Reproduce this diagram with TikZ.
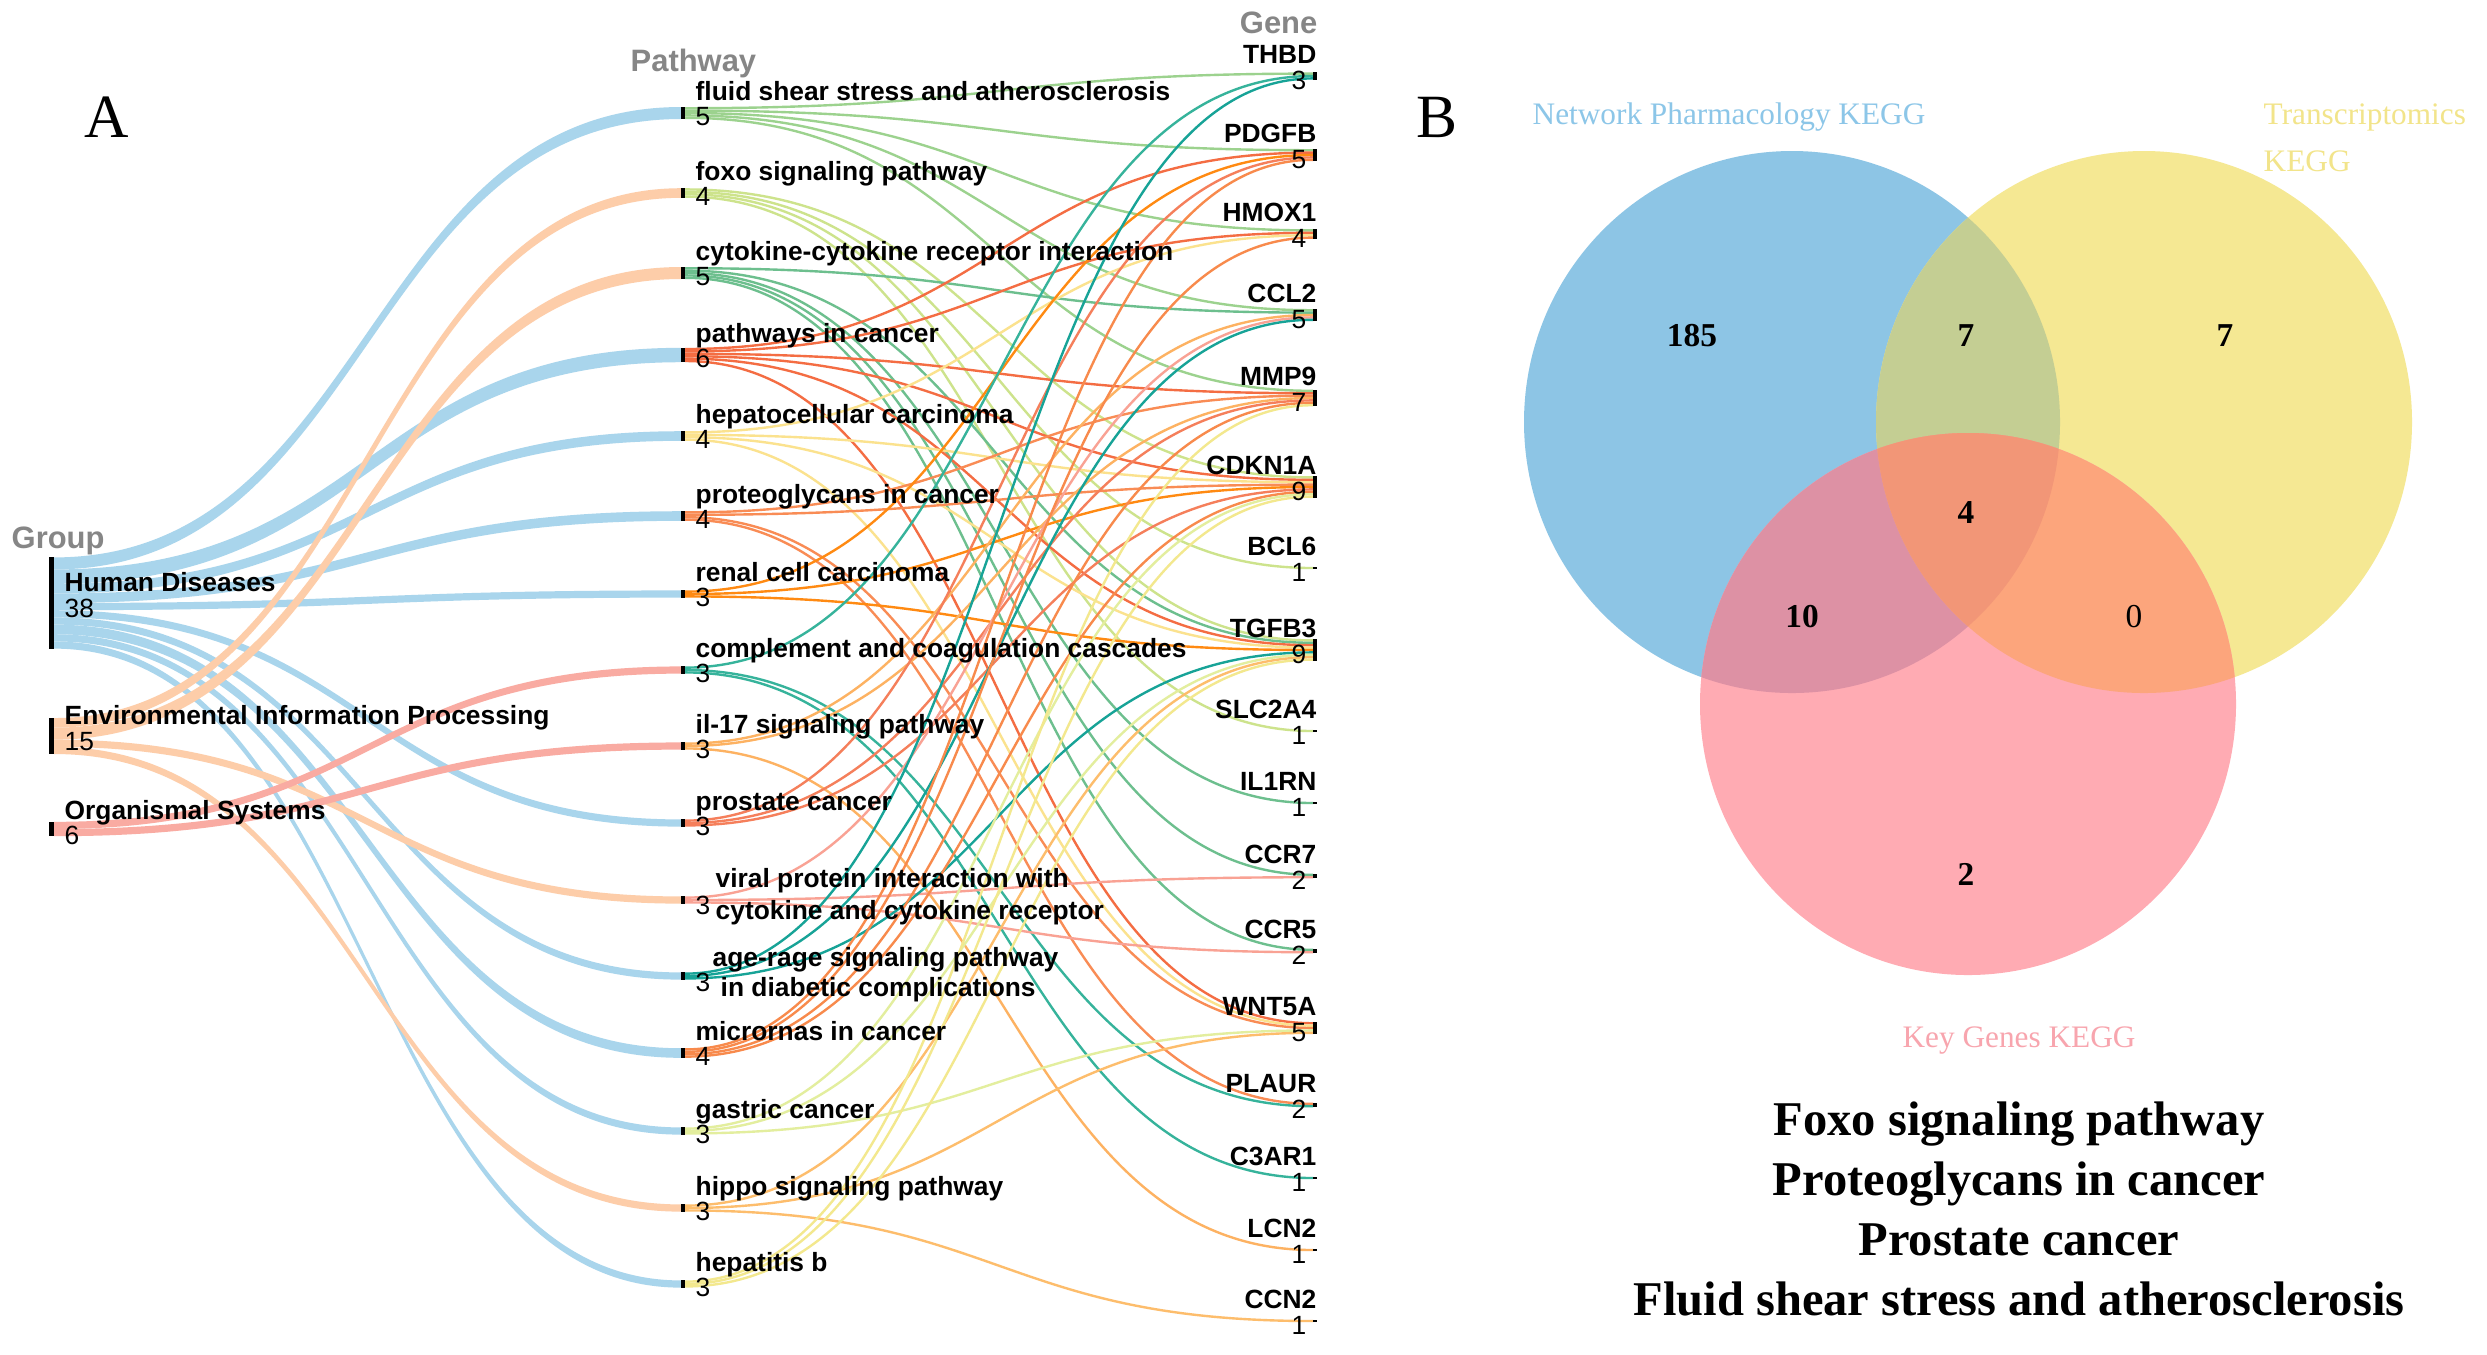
\documentclass[tikz,border=0pt]{standalone}
\usepackage{fontspec}
\setmainfont{Liberation Serif}
\newfontfamily\arialf{Liberation Sans}
\usetikzlibrary{calc}
\definecolor{cHD}{HTML}{A9D5EC}
\definecolor{cEIP}{HTML}{FDCDA9}
\definecolor{cOS}{HTML}{F9ABA2}
\definecolor{cFluid}{HTML}{9CD28E}
\definecolor{cFoxo}{HTML}{CDE38C}
\definecolor{cCyto}{HTML}{6DBF8E}
\definecolor{cCancer}{HTML}{F46D43}
\definecolor{cHepato}{HTML}{FBE28E}
\definecolor{cProteo}{HTML}{F98C55}
\definecolor{cRenal}{HTML}{FF8A12}
\definecolor{cComp}{HTML}{36B39B}
\definecolor{cIL}{HTML}{FDB262}
\definecolor{cPros}{HTML}{F57F5B}
\definecolor{cViral}{HTML}{F9A294}
\definecolor{cAge}{HTML}{17A397}
\definecolor{cMicro}{HTML}{F88A4C}
\definecolor{cGastric}{HTML}{E3EE9E}
\definecolor{cHippo}{HTML}{FDBD6C}
\definecolor{cHepB}{HTML}{F3E88E}
\definecolor{vBlue}{HTML}{8DC5E5}
\definecolor{vYel}{HTML}{F5E893}
\definecolor{vPink}{HTML}{FFABB3}
\definecolor{vBY}{HTML}{C4CE93}
\definecolor{vBP}{HTML}{DD91A4}
\definecolor{vYP}{HTML}{FCA57C}
\definecolor{vAll}{HTML}{F29677}
\definecolor{lBlue}{HTML}{8CC6E8}
\definecolor{lYel}{HTML}{F2E48A}
\definecolor{lPink}{HTML}{F8A5AE}
\newcommand\mkrib[5]{%
\pgfmathsetmacro\ribh{#5*2.4}%
\pgfmathsetmacro\ribb{#3+#5*2.4}%
\fill[#1] ($(#2.east)+(0,#3)$) .. controls ($(#2.east)+(314,#3)$) and ($(#4.west)+(-314,-\ribh/2)$) .. ($(#4.west)+(0,-\ribh/2)$) -- ($(#4.west)+(0,\ribh/2)$) .. controls ($(#4.west)+(-314,\ribh/2)$) and ($(#2.east)+(314,\ribb)$) .. ($(#2.east)+(0,\ribb)$) -- cycle;}
\newcommand\mklnk[5]{\draw[lk,#1] ($(#2.east)+(0,#3)$) .. controls ($(#2.east)+(314,#3)$) and ($(#4.west)+(-314,#5)$) .. ($(#4.west)+(0,#5)$);}
\begin{document}
\begin{tikzpicture}[x=0.1mm,y=-0.1mm,
  lk/.style={line width=0.68pt},
  bar/.style={fill=black,inner sep=0pt,outer sep=0pt,draw=none,minimum width=0.4mm},
  gbar/.style={fill=black,inner sep=0pt,outer sep=0pt,draw=none,minimum width=0.5mm},
  sk/.style={font=\arialf\bfseries\fontsize{7.5}{9}\selectfont,inner sep=0pt},
  num/.style={font=\arialf\fontsize{7.5}{9}\selectfont,inner sep=0pt},
  hdr/.style={font=\arialf\bfseries\fontsize{8.8}{10}\selectfont,text=gray!95,inner sep=0pt},
  vnum/.style={font=\bfseries\fontsize{9.5}{11}\selectfont,inner sep=0pt},
  vlab/.style={font=\fontsize{8.9}{10}\selectfont,inner sep=0pt},
  btxt/.style={font=\bfseries\fontsize{13.8}{16}\selectfont,inner sep=0pt},
  panel/.style={font=\fontsize{17.5}{20}\selectfont,inner sep=0pt},
  vb/.style={x radius=268, y radius=271}]
\useasboundingbox (0,0) rectangle (2487,1354);
\fill[white] (0,0) rectangle (2487,1354);
% ---------- nodes (bars)
\node[gbar,minimum height=9.12mm] (GR1) at (51.5,603) {};
\node[gbar,minimum height=3.6mm] (GR2) at (51.5,736) {};
\node[gbar,minimum height=1.44mm] (GR3) at (51.5,829) {};
\foreach \i/\y/\h in {1/113/1.2,2/193/0.96,3/273/1.2,4/355/1.44,5/436/0.96,6/516/0.96,7/594/0.72,8/670/0.72,9/746/0.72,10/823/0.72,11/900/0.72,12/976/0.72,13/1053/0.96,14/1131/0.72,15/1208/0.72,16/1284/0.72}
  \node[bar,minimum height=\h mm] (P\i) at (683,\y) {};
\foreach \i/\y/\h in {1/76/0.72,2/155/1.2,3/234/0.96,4/315/1.2,5/398/1.68,6/487/2.16,7/568/0.24,8/650/2.16,9/731/0.24,10/803/0.24,11/876/0.48,12/951/0.48,13/1028/1.2,14/1105/0.48,15/1178/0.24,16/1250/0.24,17/1321/0.24}
  \node[bar,minimum height=\h mm] (G\i) at (1315,\y) {};
% ---------- ribbons group -> pathway
\mkrib{cHD}{GR1}{-45.6}{P1}{5}
\mkrib{cHD}{GR1}{-33.6}{P4}{6}
\mkrib{cHD}{GR1}{-19.2}{P5}{4}
\mkrib{cHD}{GR1}{-9.6}{P6}{4}
\mkrib{cHD}{GR1}{0}{P7}{3}
\mkrib{cHD}{GR1}{7.2}{P10}{3}
\mkrib{cHD}{GR1}{14.4}{P12}{3}
\mkrib{cHD}{GR1}{21.6}{P13}{4}
\mkrib{cHD}{GR1}{31.2}{P14}{3}
\mkrib{cHD}{GR1}{38.4}{P16}{3}
\mkrib{cEIP}{GR2}{-18}{P2}{4}
\mkrib{cEIP}{GR2}{-8.4}{P3}{5}
\mkrib{cEIP}{GR2}{3.6}{P11}{3}
\mkrib{cEIP}{GR2}{10.8}{P15}{3}
\mkrib{cOS}{GR3}{-7.2}{P8}{3}
\mkrib{cOS}{GR3}{0}{P9}{3}
% ---------- links pathway -> gene
\mklnk{cFluid}{P1}{-4.8}{G1}{-2.4}
\mklnk{cFluid}{P1}{-2.4}{G2}{-4.8}
\mklnk{cFluid}{P1}{0}{G3}{-3.6}
\mklnk{cFluid}{P1}{2.4}{G4}{-4.8}
\mklnk{cFluid}{P1}{4.8}{G5}{-7.2}
\mklnk{cFoxo}{P2}{-3.6}{G6}{-9.6}
\mklnk{cFoxo}{P2}{-1.2}{G7}{0}
\mklnk{cFoxo}{P2}{1.2}{G8}{-9.6}
\mklnk{cFoxo}{P2}{3.6}{G9}{0}
\mklnk{cCyto}{P3}{-4.8}{G4}{-2.4}
\mklnk{cCyto}{P3}{-2.4}{G8}{-7.2}
\mklnk{cCyto}{P3}{0}{G10}{0}
\mklnk{cCyto}{P3}{2.4}{G11}{-1.2}
\mklnk{cCyto}{P3}{4.8}{G12}{-1.2}
\mklnk{cCancer}{P4}{-6}{G2}{-2.4}
\mklnk{cCancer}{P4}{-3.6}{G3}{-1.2}
\mklnk{cCancer}{P4}{-1.2}{G5}{-4.8}
\mklnk{cCancer}{P4}{1.2}{G6}{-7.2}
\mklnk{cCancer}{P4}{3.6}{G8}{-4.8}
\mklnk{cCancer}{P4}{6}{G13}{-4.8}
\mklnk{cHepato}{P5}{-3.6}{G3}{1.2}
\mklnk{cHepato}{P5}{-1.2}{G6}{-4.8}
\mklnk{cHepato}{P5}{1.2}{G8}{-2.4}
\mklnk{cHepato}{P5}{3.6}{G13}{-2.4}
\mklnk{cProteo}{P6}{-3.6}{G5}{-2.4}
\mklnk{cProteo}{P6}{-1.2}{G6}{-2.4}
\mklnk{cProteo}{P6}{1.2}{G13}{0}
\mklnk{cProteo}{P6}{3.6}{G14}{-1.2}
\mklnk{cRenal}{P7}{-2.4}{G2}{0}
\mklnk{cRenal}{P7}{0}{G6}{0}
\mklnk{cRenal}{P7}{2.4}{G8}{0}
\mklnk{cComp}{P8}{-2.4}{G1}{0}
\mklnk{cComp}{P8}{0}{G14}{1.2}
\mklnk{cComp}{P8}{2.4}{G15}{0}
\mklnk{cIL}{P9}{-2.4}{G4}{0}
\mklnk{cIL}{P9}{0}{G5}{0}
\mklnk{cIL}{P9}{2.4}{G16}{0}
\mklnk{cPros}{P10}{-2.4}{G2}{2.4}
\mklnk{cPros}{P10}{0}{G5}{2.4}
\mklnk{cPros}{P10}{2.4}{G6}{2.4}
\mklnk{cViral}{P11}{-2.4}{G4}{2.4}
\mklnk{cViral}{P11}{0}{G11}{1.2}
\mklnk{cViral}{P11}{2.4}{G12}{1.2}
\mklnk{cAge}{P12}{-2.4}{G1}{2.4}
\mklnk{cAge}{P12}{0}{G4}{4.8}
\mklnk{cAge}{P12}{2.4}{G8}{2.4}
\mklnk{cMicro}{P13}{-3.6}{G2}{4.8}
\mklnk{cMicro}{P13}{-1.2}{G3}{3.6}
\mklnk{cMicro}{P13}{1.2}{G5}{4.8}
\mklnk{cMicro}{P13}{3.6}{G6}{4.8}
\mklnk{cGastric}{P14}{-2.4}{G6}{7.2}
\mklnk{cGastric}{P14}{0}{G8}{4.8}
\mklnk{cGastric}{P14}{2.4}{G13}{2.4}
\mklnk{cHippo}{P15}{-2.4}{G8}{7.2}
\mklnk{cHippo}{P15}{0}{G13}{4.8}
\mklnk{cHippo}{P15}{2.4}{G17}{0}
\mklnk{cHepB}{P16}{-2.4}{G5}{7.2}
\mklnk{cHepB}{P16}{0}{G6}{9.6}
\mklnk{cHepB}{P16}{2.4}{G8}{9.6}
% redraw bars on top
\foreach \n in {GR1,GR2,GR3} \fill[black] (\n.south west) rectangle (\n.north east);
\foreach \n in {1,...,16} \fill[black] (P\n.south west) rectangle (P\n.north east);
\foreach \n in {1,...,17} \fill[black] (G\n.south west) rectangle (G\n.north east);
% ---------- headers
\node[hdr,anchor=base west] (hGroup) at (11,548) {Group};
\node[hdr,anchor=base west] (hPath) at (630,71) {Pathway};
\node[hdr,anchor=base east] (hGene) at (1318,33) {Gene};
% ---------- group labels
\node[sk,anchor=base west] (GR1l) at (64,591) {Human Diseases};
\node[num,anchor=base west] (GR1n) at (64,617) {38};
\node[sk,anchor=base west] (GR2l) at (64,724) {Environmental Information Processing};
\node[num,anchor=base west] (GR2n) at (64,750) {15};
\node[sk,anchor=base west] (GR3l) at (64,819) {Organismal Systems};
\node[num,anchor=base west] (GR3n) at (64,844) {6};
% ---------- pathway labels
\foreach \i/\y/\t/\n in {1/113/{fluid shear stress and atherosclerosis}/5,2/193/{foxo signaling pathway}/4,3/273/{cytokine-cytokine receptor interaction}/5,4/355/{pathways in cancer}/6,5/436/{hepatocellular carcinoma}/4,6/516/{proteoglycans in cancer}/4,7/594/{renal cell carcinoma}/3,8/670/{complement and coagulation cascades}/3,9/746/{il-17 signaling pathway}/3,10/823/{prostate cancer}/3,13/1053/{micrornas in cancer}/4,14/1131/{gastric cancer}/3,15/1208/{hippo signaling pathway}/3,16/1284/{hepatitis b}/3}{
  \node[sk,anchor=base west] (P\i l) at (695,\y-13) {\t};
  \node[num,anchor=base west] (P\i n) at (695,\y+12) {\n};
}
\node[sk,anchor=base west] (P11a) at (715,887) {viral protein interaction with};
\node[sk,anchor=base west] (P11b) at (715,919) {cytokine and cytokine receptor};
\node[num,anchor=base west] (P11n) at (695,914) {3};
\node[sk,anchor=base west] (P12a) at (712,966) {age-rage signaling pathway};
\node[sk,anchor=base west] (P12b) at (720,996) {in diabetic complications};
\node[num,anchor=base west] (P12n) at (695,991) {3};
% ---------- gene labels
\foreach \i/\y/\t/\n in {1/76/THBD/3,2/155/PDGFB/5,3/234/HMOX1/4,4/315/CCL2/5,5/398/MMP9/7,6/487/CDKN1A/9,7/568/BCL6/1,8/650/TGFB3/9,9/731/SLC2A4/1,10/803/IL1RN/1,11/876/CCR7/2,12/951/CCR5/2,13/1028/WNT5A/5,14/1105/PLAUR/2,15/1178/C3AR1/1,16/1250/LCN2/1,17/1321/CCN2/1}{
  \node[sk,anchor=base east] (G\i l) at (1317,\y-13) {\t};
  \node[num,anchor=base east] (G\i n) at (1307,\y+13) {\n};
}
% ---------- panel letters
\node[panel] (pA) at (107,117) {A};
\node[panel] (pB) at (1437,117) {B};
% ---------- Venn
\fill[vBlue] (1792,422) ellipse [vb];
\fill[vYel] (2144,422) ellipse [vb];
\fill[vPink] (1968,704) ellipse [vb];
\begin{scope}
  \clip (1792,422) ellipse [vb];
  \fill[vBY] (2144,422) ellipse [vb];
  \fill[vBP] (1968,704) ellipse [vb];
\end{scope}
\begin{scope}
  \clip (2144,422) ellipse [vb];
  \fill[vYP] (1968,704) ellipse [vb];
\end{scope}
\begin{scope}
  \clip (1792,422) ellipse [vb];
  \clip (2144,422) ellipse [vb];
  \fill[vAll] (1968,704) ellipse [vb];
\end{scope}
\node[vlab,text=lBlue,anchor=base] (vl1) at (1729,124) {Network Pharmacology KEGG};
\node[vlab,text=lYel,anchor=base west] (vl2a) at (2263,124) {Transcriptomics};
\node[vlab,text=lYel,anchor=base west] (vl2b) at (2263,171) {KEGG};
\node[vlab,text=lPink,anchor=base] (vl3) at (2019,1047) {Key Genes KEGG};
\node[vnum] (v185) at (1692,336) {185};
\node[vnum] (v7a) at (1966,336) {7};
\node[vnum] (v7b) at (2225,336) {7};
\node[vnum] (v4) at (1966,512) {4};
\node[vnum] (v10) at (1802,617) {10};
\node[vnum,font=\fontsize{9.5}{11}\selectfont] (v0) at (2134,617) {0};
\node[vnum] (v2) at (1966,874) {2};
% ---------- bottom text
\node[btxt,anchor=base] (t1) at (2019,1135) {Foxo signaling pathway};
\node[btxt,anchor=base] (t2) at (2019,1195) {Proteoglycans in cancer};
\node[btxt,anchor=base] (t3) at (2019,1255) {Prostate cancer};
\node[btxt,anchor=base] (t4) at (2019,1315) {Fluid shear stress and atherosclerosis};
\end{tikzpicture}
\end{document}
